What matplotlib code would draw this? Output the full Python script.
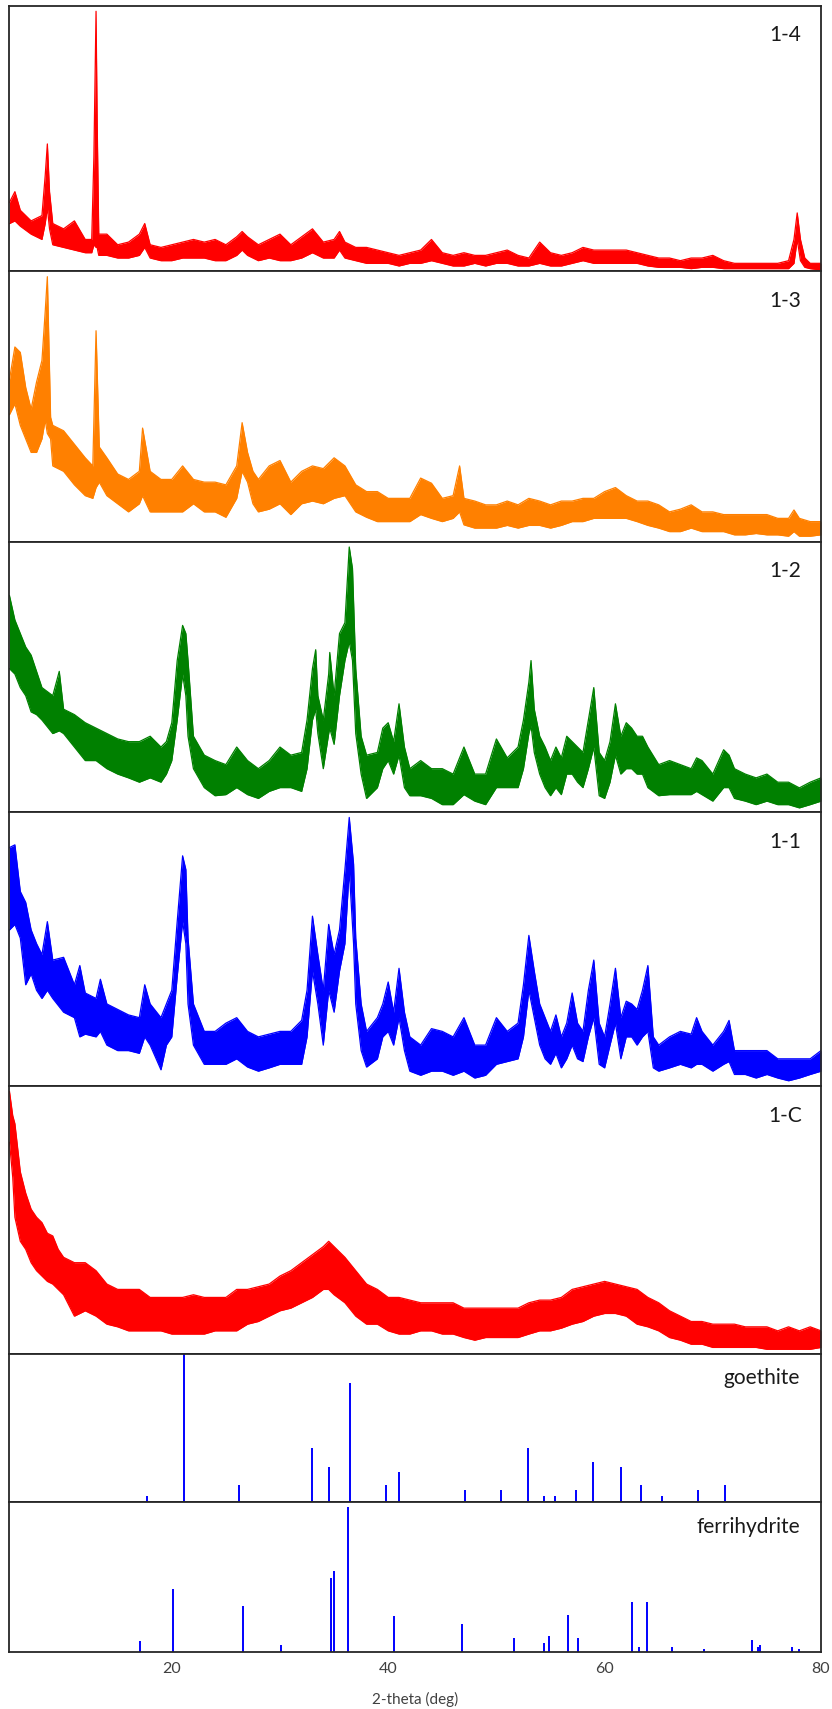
"""
XRD patterns of samples 1-4 ... 1-C with goethite / ferrihydrite reference sticks.
Values are read off the original figure, as percent of each panel height.
Each measured pattern is stored as the low / high edge of its noise band.
"""
import matplotlib
matplotlib.use("Agg")
import matplotlib.pyplot as plt

plt.rcParams["font.family"] = ["Lato", "DejaVu Sans"]

# --------------------------------------------------------------------------- #
# Sample 1-4 (red)
# --------------------------------------------------------------------------- #
s14_x = [5, 5.5, 6, 7, 8, 8.3, 8.5, 8.7, 9, 10,
         11, 12, 12.6, 12.8, 13.0, 13.1, 13.25, 14, 15, 16,
         17, 17.5, 18, 19, 20, 21, 22, 23, 24, 25,
         26, 26.5, 27, 28, 29, 30, 31, 32, 33, 34,
         35, 35.5, 36, 37, 38, 39, 40, 41, 42, 43,
         44, 45, 46, 47, 48, 49, 50, 51, 52, 53,
         54, 55, 56, 57, 58, 59, 60, 61, 62, 63,
         64, 65, 66, 67, 68, 69, 70, 71, 72, 73,
         74, 75, 76, 77, 77.5, 77.8, 78.1, 78.5, 79, 80]
s14_lo = [18, 19, 17, 14, 12, 18, 24, 16, 10, 9,
          8, 7, 7, 10, 9, 9, 6, 6, 5, 5,
          6, 9, 5, 4, 4, 5, 5, 5, 4, 4,
          6, 8, 6, 4, 5, 4, 4, 5, 7, 5,
          5, 8, 5, 4, 3, 3, 3, 2, 3, 3,
          4, 3, 2, 2, 3, 2, 3, 3, 2, 2,
          3, 2, 2, 3, 4, 3, 3, 3, 3, 3,
          2, 1.5, 1.5, 1.5, 1, 1.5, 1.5, 1, 1, 1,
          1, 1, 1, 1, 3, 12, 4, 1.5, 1, 0.5]
s14_hi = [26, 30, 23, 19, 21, 36, 48, 30, 18, 16,
          19, 12, 12, 43, 98, 57, 14, 14, 10, 11,
          14, 18, 10, 9, 10, 11, 12, 11, 12, 10,
          13, 15, 13, 10, 12, 14, 10, 13, 16, 11,
          12, 15, 11, 9, 9, 8, 7, 6, 7, 8,
          12, 7, 6, 7, 6, 6, 7, 8, 6, 5,
          11, 7, 6, 7, 9, 8, 8, 8, 8, 7,
          6, 5, 5, 4, 5, 5, 6, 4, 3, 3,
          3, 3, 3, 4, 12, 22, 12, 5, 3, 3]

# --------------------------------------------------------------------------- #
# Sample 1-3 (orange)
# --------------------------------------------------------------------------- #
s13_x = [5, 5.5, 6, 6.5, 7, 7.5, 8, 8.3, 8.5, 8.8,
         9, 10, 11, 12, 12.7, 13.0, 13.3, 14, 15, 16,
         17, 17.3, 18, 19, 20, 21, 22, 23, 24, 25,
         26, 26.5, 27, 27.5, 28, 29, 30, 31, 32, 33,
         34, 35, 36, 37, 38, 39, 40, 41, 42, 43,
         44, 45, 46, 46.6, 47, 48, 49, 50, 51, 52,
         53, 54, 55, 56, 57, 58, 59, 60, 61, 62,
         63, 64, 65, 66, 67, 68, 69, 70, 71, 72,
         73, 74, 75, 76, 77, 77.5, 78, 79, 80]
s13_lo = [47, 51, 43, 38, 33, 33, 38, 45, 40, 38,
          28, 26, 21, 17, 16, 20, 22, 17, 14, 11,
          14, 17, 11, 11, 11, 11, 14, 11, 11, 9,
          16, 26, 22, 14, 11, 12, 14, 10, 14, 15,
          14, 16, 17, 11, 9, 7.4, 7.4, 7.4, 7.4, 10,
          8.6, 7.4, 8.6, 11, 6.2, 5, 5, 5, 6, 5,
          6, 6, 5, 6, 7.4, 7.4, 8.6, 8.6, 8.6, 8.6,
          7.4, 6, 5, 3.7, 3.7, 5, 3.7, 3.7, 3.7, 2.5,
          2.5, 3, 2.5, 2.5, 2, 3.7, 2, 2, 2.5]
s13_hi = [60, 72, 70, 57, 49, 59, 67, 85, 98, 46,
          43, 41, 36, 31, 28, 78, 35, 31, 25, 23,
          26, 42, 26, 23, 23, 28, 23, 22, 22, 21,
          28, 44, 33, 26, 23, 28, 30, 22, 26, 28,
          27, 31, 28, 21, 18.5, 18.5, 16, 16, 16, 23.5,
          21.6, 16, 17, 28, 16, 15, 13.6, 13.6, 15, 13.6,
          16, 15, 13.6, 15, 15, 16, 16, 18.5, 20, 17,
          15, 15, 13.6, 11, 12, 13.6, 11, 11, 10, 10,
          10, 10, 10, 8.6, 8.6, 11.7, 8.6, 7.4, 7.4]

# --------------------------------------------------------------------------- #
# Sample 1-2 (green)
# --------------------------------------------------------------------------- #
s12_x = [5, 5.5, 6, 6.5, 7, 7.5, 8, 9, 9.6, 10,
         11, 12, 13, 14, 15, 16, 17, 18, 19, 19.5,
         20, 20.5, 21, 21.3, 21.5, 22, 23, 24, 25, 26,
         27, 28, 29, 30, 31, 32, 32.5, 33, 33.3, 33.5,
         34, 34.5, 34.6, 35, 35.5, 36, 36.4, 36.7, 37, 37.5,
         38, 39, 39.5, 40, 40.5, 41, 41.5, 42, 43, 44,
         45, 46, 47, 48, 49, 50, 51, 52, 52.5, 53,
         53.2, 53.5, 54, 54.5, 55, 55.5, 56, 56.5, 57, 57.5,
         58, 58.5, 59, 59.5, 60, 60.5, 61, 61.5, 62, 62.5,
         63, 63.5, 64, 65, 66, 67, 68, 68.5, 69, 70,
         71, 71.5, 72, 73, 74, 75, 76, 77, 78, 79, 80]
s12_lo = [53, 51, 46, 43, 37, 36, 34, 29, 30, 29,
          24, 19, 19, 16, 14, 12.6, 11, 12.6, 11, 14,
          19, 34, 51, 43, 28, 16, 9, 6, 6.4, 9,
          6.4, 5, 7.6, 9, 9, 7.6, 16, 34, 38, 29,
          16, 29, 31, 25, 43, 56, 63, 56, 29, 14,
          5, 9, 16, 19, 14, 21, 9, 6, 6, 5,
          2.7, 2.7, 6.4, 4, 2.7, 9, 9, 9, 16, 29,
          32, 22, 14, 9, 6, 9, 6.4, 14, 14, 11,
          9, 16, 24, 6, 5, 11, 21, 14, 16, 16,
          14, 14, 9, 6, 6.4, 6.4, 6.4, 7.6, 6.4, 4,
          9, 9, 5, 4, 2.7, 4, 2.7, 2.7, 1.5, 2.7, 4]
s12_hi = [80, 71, 66, 61, 58, 52, 46, 43, 52, 38,
          36, 33, 31, 29, 27, 26, 26, 28, 24, 26,
          33, 56, 69, 66, 56, 28, 21, 19, 17.5, 24,
          19, 16, 19, 24, 21, 22, 34, 53, 60, 43,
          34, 51, 59, 43, 66, 70, 98, 90, 53, 28,
          21, 22, 31, 33, 26, 40, 24, 16, 19, 16,
          16, 14, 24, 14, 14, 27, 20, 24, 34, 48,
          56, 38, 28, 24, 19, 24, 20, 28, 26, 24,
          22, 34, 46, 22, 19, 26, 40, 28, 33, 31,
          28, 28, 24, 17.5, 19, 17.5, 16, 20, 19, 14,
          23, 21, 16, 14, 12.6, 14, 11, 11, 8.9, 11, 12.6]

# --------------------------------------------------------------------------- #
# Sample 1-1 (blue)
# --------------------------------------------------------------------------- #
s11_x = [5, 5.5, 6, 6.5, 7, 7.5, 8, 8.5, 9, 10,
         11, 11.5, 12, 13, 13.4, 14, 15, 16, 17, 17.5,
         18, 19, 19.5, 20, 20.5, 21, 21.3, 21.5, 22, 23,
         24, 25, 26, 27, 28, 29, 30, 31, 32, 32.5,
         33, 33.5, 34, 34.5, 35, 35.5, 36, 36.4, 36.8, 37,
         37.5, 38, 39, 39.5, 40, 40.5, 41, 41.5, 42, 43,
         44, 45, 46, 47, 48, 49, 50, 51, 52, 52.5,
         53, 53.5, 54, 54.5, 55, 55.5, 56, 56.5, 57, 57.5,
         58, 58.5, 59, 59.5, 60, 60.5, 61, 61.5, 62, 62.5,
         63, 63.5, 64, 64.5, 65, 66, 67, 68, 68.5, 69,
         70, 71, 71.5, 72, 73, 74, 75, 76, 77, 78, 79, 80]
s11_lo = [57, 59, 54, 37, 41, 35, 32, 35, 32, 27,
          25, 18, 19, 18, 20, 15, 13, 13, 12, 18,
          15, 6, 15, 18, 40, 60, 52, 30, 15, 8,
          8, 8, 10, 7, 5.5, 6.7, 8, 8, 8, 18,
          42, 30, 15, 35, 27, 42, 52, 79, 52, 30,
          13, 7, 10, 18, 20, 15, 25, 13, 5.5, 4,
          5.5, 5.5, 4, 5.5, 3, 4, 8, 9, 10, 18,
          35, 25, 15, 10, 8, 12, 6.7, 10, 15, 10,
          9, 18, 25, 8, 6.7, 15, 23, 10, 18, 18,
          15, 18, 20, 6.7, 5.5, 6.7, 8, 6.7, 8, 8,
          5.5, 8, 9, 4.3, 4.3, 3, 4.3, 3, 2, 3, 4.3, 5.5]
s11_hi = [87, 88, 71, 67, 57, 52, 48, 60, 46, 47,
          37, 44, 34, 32, 39, 30, 28, 26, 25, 37,
          30, 25, 30, 35, 60, 84, 79, 54, 30, 20,
          20, 23, 25, 20, 18, 19, 20, 20, 24, 35,
          62, 48, 35, 59, 48, 57, 79, 98, 81, 54,
          30, 20, 25, 30, 38, 27, 43, 27, 18, 15,
          21, 20, 18, 25, 15, 15, 25, 20, 23, 37,
          55, 42, 30, 25, 20, 26, 18, 23, 34, 23,
          20, 35, 46, 23, 18, 30, 43, 25, 31, 30,
          28, 35, 44, 18, 15, 18, 20, 19, 25, 20,
          15, 20, 24, 13, 13, 13, 13, 10, 10, 10, 10, 13]

# --------------------------------------------------------------------------- #
# Sample 1-C (red)
# --------------------------------------------------------------------------- #
s1c_x = [5, 5.3, 5.5, 6, 6.5, 7, 7.5, 8, 8.5, 9,
         9.5, 10, 11, 12, 13, 14, 15, 16, 17, 18,
         19, 20, 21, 22, 23, 24, 25, 26, 27, 28,
         29, 30, 31, 32, 33, 34, 34.5, 35, 36, 37,
         38, 39, 40, 41, 42, 43, 44, 45, 46, 47,
         48, 49, 50, 51, 52, 53, 54, 55, 56, 57,
         58, 59, 60, 61, 62, 63, 64, 65, 66, 67,
         68, 69, 70, 71, 72, 73, 74, 75, 76, 77,
         78, 79, 80]
s1c_lo = [79, 66, 51, 42, 39, 34, 31, 29, 27, 26,
          24, 22, 14, 16, 14, 11, 10, 8.5, 8.5, 8.5,
          8.5, 7.3, 7.3, 7.3, 7.3, 8.5, 8.5, 8.5, 11, 12,
          14, 16, 17, 19, 21, 24, 24, 22, 19, 14,
          11, 11, 8.5, 7.3, 7.3, 8.5, 8.5, 7.3, 7.3, 6,
          5, 6, 6, 6, 6, 7.3, 8.5, 8.5, 9.5, 11,
          12, 14, 15, 15, 14, 11, 10, 8.5, 6, 5,
          3.5, 3.5, 2.3, 2.3, 2.3, 2.3, 2.3, 1.6, 1.6, 1.6,
          1.6, 1.6, 2.3]
s1c_hi = [98, 89, 86, 68, 60, 54, 51, 49, 45, 44,
          39, 36, 34, 34, 31, 26, 24, 24, 24, 21,
          21, 21, 21, 22, 21, 21, 21, 24, 24, 25,
          26, 29, 31, 34, 37, 40, 42, 40, 36, 31,
          26, 24, 21, 21, 20, 19, 19, 19, 19, 17,
          17, 17, 17, 17, 17, 19, 20, 20, 21, 24,
          25, 26, 27, 26, 25, 24, 21, 19, 16, 14,
          12, 12, 11, 11, 11, 10, 10, 10, 8.5, 10,
          8.5, 10, 8.5]

# --------------------------------------------------------------------------- #
# Reference stick patterns
# --------------------------------------------------------------------------- #
goethite_pos = [17.75, 21.1, 26.2, 33.0, 34.5, 36.5, 39.8, 41.0, 47.1, 50.4,
                52.9, 54.4, 55.4, 57.4, 58.9, 61.5, 63.4, 65.3, 68.6, 71.1]
goethite_int = [4, 100, 11.4, 36, 23.5, 80, 11.4, 20, 7.8, 7.8,
                36, 4, 4, 7.8, 27, 23.5, 11.4, 4, 7.8, 11.4]

ferri_pos = [17.1, 20.1, 26.6, 30.05, 34.7, 35.0, 36.3, 40.5, 46.8, 51.6,
             54.4, 54.9, 56.6, 57.5, 62.5, 63.2, 63.9, 66.2, 69.2, 73.6,
             74.2, 74.4, 77.3, 78.0]
ferri_int = [7.1, 41.6, 30.9, 4.7, 48.9, 53.6, 96.7, 23.8, 18.9, 9.3,
             5.8, 10.4, 24.9, 9.3, 33.3, 3.3, 33.3, 3.3, 2.2, 8.0,
             3.3, 4.7, 3.3, 2.2]

samples = [
    ("1-4", "#FF0000", s14_x, s14_lo, s14_hi),
    ("1-3", "#FF8000", s13_x, s13_lo, s13_hi),
    ("1-2", "#008000", s12_x, s12_lo, s12_hi),
    ("1-1", "#0000FF", s11_x, s11_lo, s11_hi),
    ("1-C", "#FF0000", s1c_x, s1c_lo, s1c_hi),
]
references = [
    ("goethite", goethite_pos, goethite_int),
    ("ferrihydrite", ferri_pos, ferri_int),
]

# --------------------------------------------------------------------------- #
# Layout: five pattern panels + two shorter stick panels, no gaps
# --------------------------------------------------------------------------- #
fig = plt.figure(figsize=(8.32, 17.09), dpi=100)
gs = fig.add_gridspec(7, 1, height_ratios=[265, 270, 270, 274, 267, 148, 150],
                      hspace=0, left=0.0114, right=0.9868, top=0.9965, bottom=0.0334)
axes = [fig.add_subplot(gs[i]) for i in range(7)]

for ax in axes:
    ax.set_xlim(5, 80)
    ax.set_yticks([])
    for sp in ax.spines.values():
        sp.set_color("#262626")
        sp.set_linewidth(1.3)
    ax.tick_params(axis="x", length=0, labelbottom=False)

for ax, (name, col, x, lo, hi) in zip(axes[:5], samples):
    ax.fill_between(x, lo, hi, color=col, lw=0)
    ax.plot(x, hi, color=col, lw=0.9)
    ax.plot(x, lo, color=col, lw=0.9)
    ax.set_ylim(0, 100)
    ax.text(0.976, 0.89, name, transform=ax.transAxes, ha="right", va="center",
            fontsize=15, color="#1a1a1a")

for ax, (name, pos, inten) in zip(axes[5:], references):
    ax.vlines(pos, 0, inten, color="#0000FF", lw=1.4)
    ax.set_ylim(0, 100)
    ax.text(0.974, 0.835, name, transform=ax.transAxes, ha="right", va="center",
            fontsize=15, color="#1a1a1a")

bottom = axes[-1]
bottom.set_xticks([20, 40, 60, 80])
bottom.tick_params(axis="x", length=0, pad=7, labelbottom=True,
                   labelsize=11.5, labelcolor="#404040")
fig.text(0.499, 1 - 1699 / 1709, "2-theta (deg)", ha="center", va="center",
         fontsize=11, color="#404040")

fig.savefig("out.png", dpi=100)
